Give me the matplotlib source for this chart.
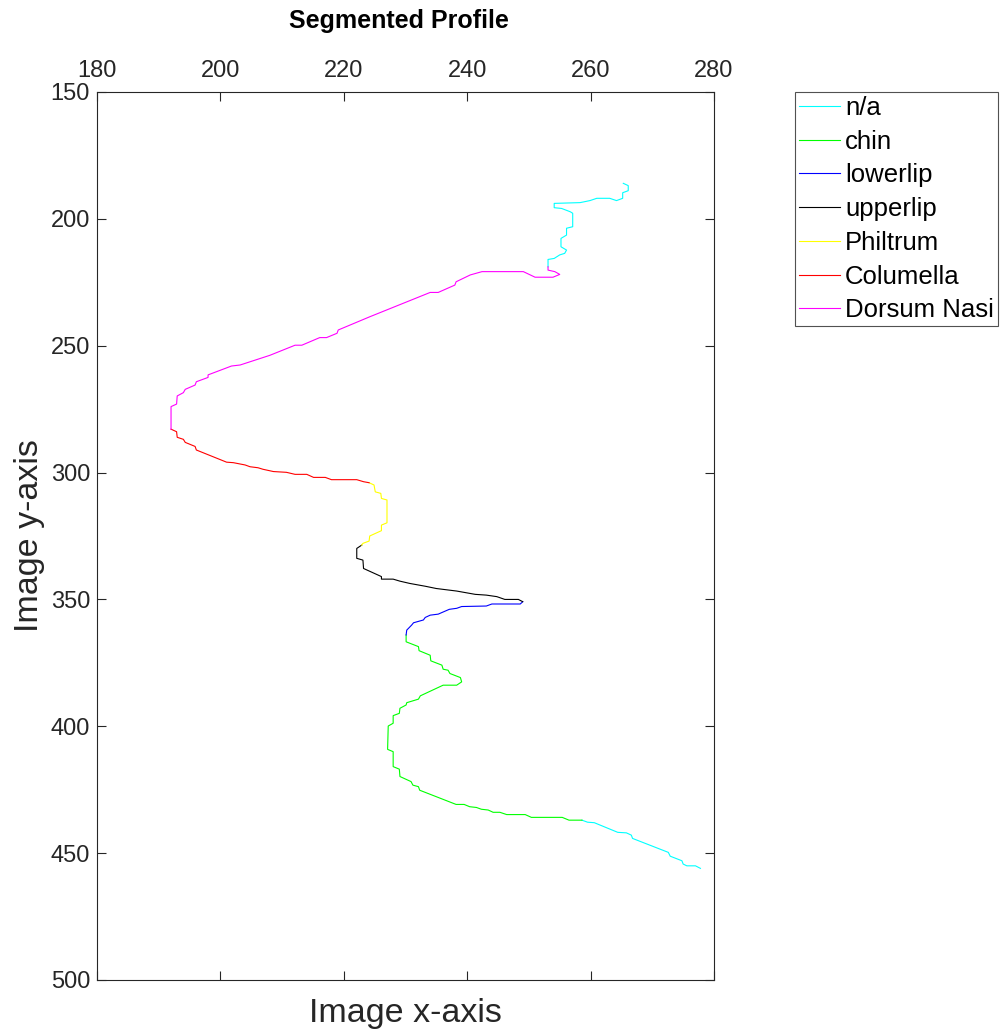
import numpy as np
import matplotlib
matplotlib.use('Agg')
import matplotlib.pyplot as plt

plt.rcParams['font.family'] = ['Liberation Sans', 'DejaVu Sans']

# segment traces, top of face to bottom (image pixel coords)
na_top_x = [265.3, 266.1, 266.1, 265.2, 265.2, 264.2, 263.1, 261.0, 259.9, 258.3, 254.1, 254.1, 255.3,
            256.7, 257.1, 257.1, 256.1, 256.1, 255.2, 255.2, 256.1, 255.8, 255.0, 254.1, 253.1, 253.1]
na_top_y = [186.0, 186.9, 188.9, 189.7, 191.9, 192.8, 191.9, 191.9, 192.8, 193.6, 193.9, 195.6, 195.9,
            197.2, 197.8, 203.1, 203.7, 206.4, 207.7, 211.0, 212.3, 213.6, 214.2, 215.6, 216.0, 218.9]

dorsum_x = [253.1, 253.1, 254.2, 255.0, 253.9, 251.0, 249.1, 242.4, 240.5, 238.2, 238.0, 235.3, 234.0,
            224.2, 219.1, 218.9, 217.2, 216.1, 213.2, 212.1, 208.0, 203.2, 201.8, 198.0, 198.0, 196.1,
            195.9, 194.3, 194.0, 193.0, 192.9, 192.0, 192.0]
dorsum_y = [218.9, 220.2, 220.8, 221.9, 223.0, 223.0, 220.8, 220.8, 222.1, 224.8, 226.1, 229.0, 229.0,
            238.6, 243.8, 245.1, 246.8, 246.8, 249.8, 249.8, 253.8, 257.6, 258.0, 261.5, 262.5, 264.2,
            265.5, 267.2, 268.5, 269.8, 273.0, 274.0, 282.9]

columella_x = [192.0, 192.9, 193.0, 194.0, 194.3, 195.9, 196.1, 201.0, 202.1, 204.0, 204.8, 206.1,
               206.9, 208.6, 210.7, 212.1, 214.0, 215.1, 217.0, 218.0, 222.1, 223.2, 224.1]
columella_y = [282.9, 283.9, 286.1, 286.9, 288.1, 289.7, 291.1, 295.9, 296.1, 297.0, 297.7, 298.1,
               298.7, 299.6, 299.9, 300.7, 300.7, 301.9, 301.9, 302.8, 302.8, 303.6, 304.0]

philtrum_x = [224.1, 224.9, 225.1, 226.0, 226.1, 227.0, 227.0, 226.1, 226.1, 224.2, 224.1, 223.1, 222.9]
philtrum_y = [304.0, 304.9, 307.6, 308.2, 310.2, 310.8, 319.8, 320.7, 322.9, 325.0, 327.0, 327.9, 328.6]

upperlip_x = [222.9, 222.1, 222.1, 223.1, 223.2, 226.1, 226.1, 228.0, 229.1, 230.7, 233.2, 235.0,
              238.3, 241.3, 243.1, 244.8, 246.1, 248.3, 249.0]
upperlip_y = [328.6, 329.9, 333.8, 334.5, 337.8, 341.0, 342.0, 342.0, 342.8, 343.7, 344.8, 345.7,
              346.7, 348.0, 348.3, 348.9, 350.0, 350.0, 350.9]

lowerlip_x = [249.0, 248.6, 244.0, 243.1, 239.1, 238.3, 237.1, 235.3, 234.0, 233.2, 232.9, 231.3,
              231.0, 230.2, 230.1]
lowerlip_y = [350.9, 351.8, 351.8, 352.6, 352.8, 353.5, 353.9, 355.8, 356.2, 357.1, 358.1, 359.2,
              360.1, 362.1, 364.0]

chin_x = [230.1, 230.1, 232.1, 232.2, 234.0, 234.1, 235.9, 236.1, 236.9, 237.2, 238.9, 239.1, 238.3,
          236.1, 232.4, 232.1, 230.2, 230.1, 229.1, 229.0, 228.0, 228.0, 227.2, 227.1, 228.0, 228.0,
          229.0, 229.1, 230.9, 231.2, 232.1, 232.3, 238.2, 239.5, 240.4, 241.5, 242.3, 243.4, 244.2,
          245.3, 246.4, 249.4, 250.4, 255.4, 256.5, 258.6]
chin_y = [364.0, 366.7, 368.6, 370.2, 372.0, 374.2, 375.9, 377.5, 377.9, 379.2, 380.8, 382.5, 383.8,
          383.8, 388.0, 389.3, 390.7, 391.6, 392.9, 394.9, 395.8, 398.8, 399.9, 409.1, 410.0, 415.9,
          416.9, 419.8, 421.8, 423.2, 423.8, 425.2, 430.8, 430.8, 431.7, 432.0, 432.7, 433.0, 433.9,
          433.9, 434.8, 434.8, 435.9, 435.9, 437.0, 437.0]

na_bot_x = [258.6, 259.5, 260.6, 264.4, 265.8, 266.6, 266.8, 272.6, 272.9, 274.8, 275.0, 275.6, 277.0, 277.8]
na_bot_y = [437.0, 437.8, 438.0, 441.8, 442.0, 442.9, 444.2, 449.7, 451.2, 453.0, 454.3, 455.0, 455.0, 456.0]

# n/a is one series with a gap between top and bottom pieces
na_x = na_top_x + [np.nan] + na_bot_x
na_y = na_top_y + [np.nan] + na_bot_y

labels = ['n/a', 'chin', 'lowerlip', 'upperlip', 'Philtrum', 'Columella', 'Dorsum Nasi']
colors = ['#00ffff', '#00ff00', '#0000ff', '#000000', '#ffff00', '#ff0000', '#ff00ff']
xs = [na_x, chin_x, lowerlip_x, upperlip_x, philtrum_x, columella_x, dorsum_x]
ys = [na_y, chin_y, lowerlip_y, upperlip_y, philtrum_y, columella_y, dorsum_y]

fig = plt.figure(figsize=(10, 10.3), dpi=100)
ax = fig.add_axes([0.097, 1 - 980 / 1030, 0.617, 888 / 1030])

for x, y, c, lab in zip(xs, ys, colors, labels):
    ax.plot(x, y, color=c, lw=0.8, label=lab)

ax.set_xlim(180, 280)
ax.set_ylim(500, 150)
ax.set_xticks(np.arange(180, 281, 20))
ax.set_yticks(np.arange(150, 501, 50))

dark = '#262626'
ax.xaxis.tick_top()
ax.xaxis.set_label_position('bottom')
ax.tick_params(direction='in', length=6.5, width=0.8, colors=dark, labelsize=17,
               top=True, bottom=True, left=True, right=True, labeltop=True, labelbottom=False)
ax.tick_params(axis='x', pad=7)
ax.tick_params(axis='y', pad=5)
for s in ax.spines.values():
    s.set_color(dark)
    s.set_linewidth(0.8)

ax.set_xlabel('Image x-axis', fontsize=24.5, color=dark, labelpad=13)
ax.set_ylabel('Image y-axis', fontsize=24.5, color=dark, labelpad=4)
fig.text(0.399, 1 - 21 / 1030, 'Segmented Profile', fontsize=18, fontweight='bold',
         ha='center', va='center')

leg = ax.legend(loc='upper left', bbox_to_anchor=(0.795, 1 - 92 / 1030), bbox_transform=fig.transFigure,
                fontsize=18.5, frameon=True, fancybox=False, edgecolor=dark, handlelength=1.6,
                handletextpad=0.2, labelspacing=0.38, borderpad=0.15, borderaxespad=0)
leg.get_frame().set_linewidth(0.8)

fig.savefig('out.png', dpi=100)
